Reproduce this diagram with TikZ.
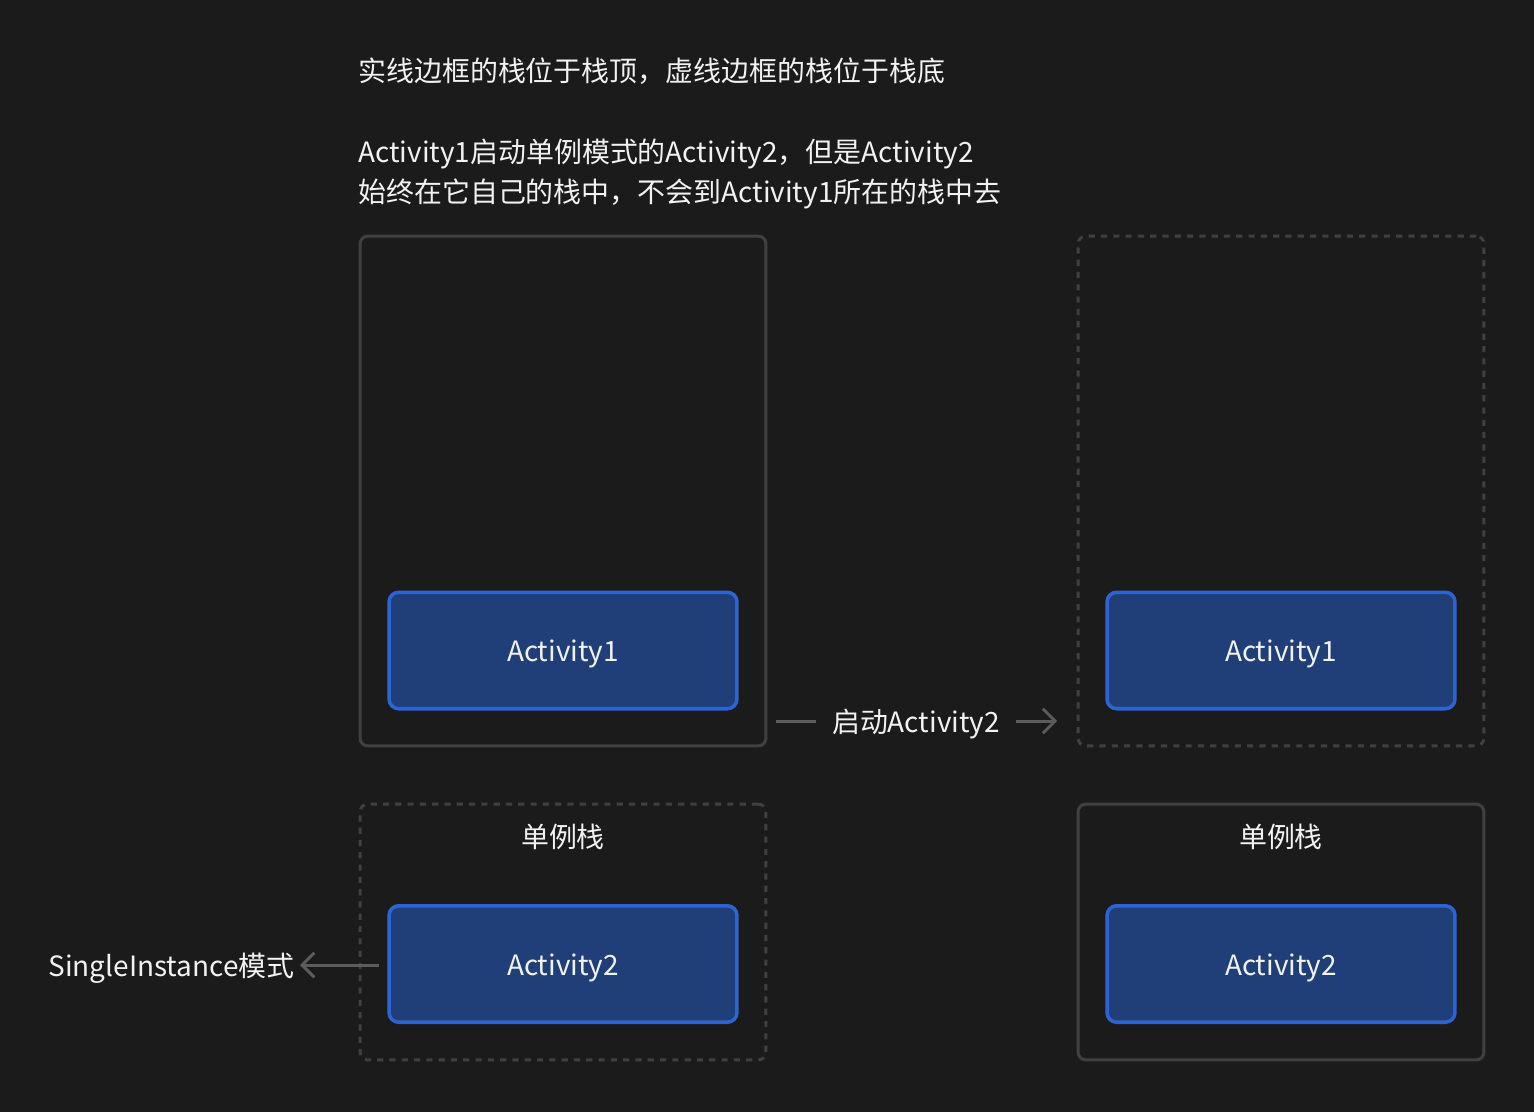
\documentclass[tikz,border=0pt]{standalone}
\usepackage{fontspec}
\newfontfamily\cjk{Noto Sans CJK SC}
\usetikzlibrary{arrows.meta}
\definecolor{bgdark}{HTML}{1B1B1B}
\definecolor{stackgray}{HTML}{404040}
\definecolor{actfill}{HTML}{203F78}
\definecolor{actline}{HTML}{2E64D2}
\definecolor{linkgray}{HTML}{5C5C5C}
\definecolor{textwhite}{HTML}{F2F2F2}
\begin{document}
\begin{tikzpicture}[x=0.02cm,y=-0.02cm,
    txtfont/.style={text=textwhite,font=\cjk\fontsize{15.9}{22.7}\selectfont},
    txt/.style={txtfont,text height=16pt,text depth=3.2pt},
    stackbox/.style={draw=stackgray,line width=1.7pt,rounded corners=4.5pt,minimum width=8.12cm},
    actbox/.style={txt,draw=actline,fill=actfill,line width=2pt,rounded corners=5.5pt,minimum width=6.96cm,minimum height=2.33cm},
    link/.style={draw=linkgray,line width=1.7pt},
    tip/.style={-{Straight Barb[length=7pt,width=14pt,line width=1.7pt]}}]
        \fill[bgdark] (0,0) rectangle (1534,1112);

        \node[txt,anchor=west,inner sep=0] (title) at (358,70) {实线边框的栈位于栈顶，虚线边框的栈位于栈底};
        \node[txtfont,anchor=west,inner sep=0,align=left] (note) at (358,174)
            {Activity1启动单例模式的Activity2，但是Activity2\\始终在它自己的栈中，不会到Activity1所在的栈中去};

        \node[stackbox,minimum height=10.2cm] (stackA) at (563,491) {};
        \node[stackbox,minimum height=10.2cm,dash pattern=on 3.5pt off 3.5pt] (stackB) at (1281,491) {};
        \node[stackbox,minimum height=5.12cm,dash pattern=on 3.5pt off 3.5pt] (stackC) at (563,932) {};
        \node[stackbox,minimum height=5.12cm] (stackD) at (1281,932) {};

        \node[actbox] (act1L) at (563,650.5) {Activity1};
        \node[actbox] (act1R) at (1281,650.5) {Activity1};
        \node[actbox] (act2L) at (563,964) {Activity2};
        \node[actbox] (act2R) at (1281,964) {Activity2};

        \node[txt] (labelC) at (563,836) {单例栈};
        \node[txt] (labelD) at (1281,836) {单例栈};

        \node[txt,inner xsep=9pt] (launch) at (916,721) {启动Activity2};
        \node[txt,anchor=east,inner xsep=3pt] (single) at (300,965) {SingleInstance模式};

        \draw[link,shorten <=5pt] (stackA.east |- launch) -- (launch.west);
        \draw[link,tip,shorten >=11pt] (launch.east) -- (stackB.west |- launch);
        \draw[link,tip,shorten <=4.5pt] (act2L.west |- single) -- (single.east);
    \end{tikzpicture}
\end{document}
